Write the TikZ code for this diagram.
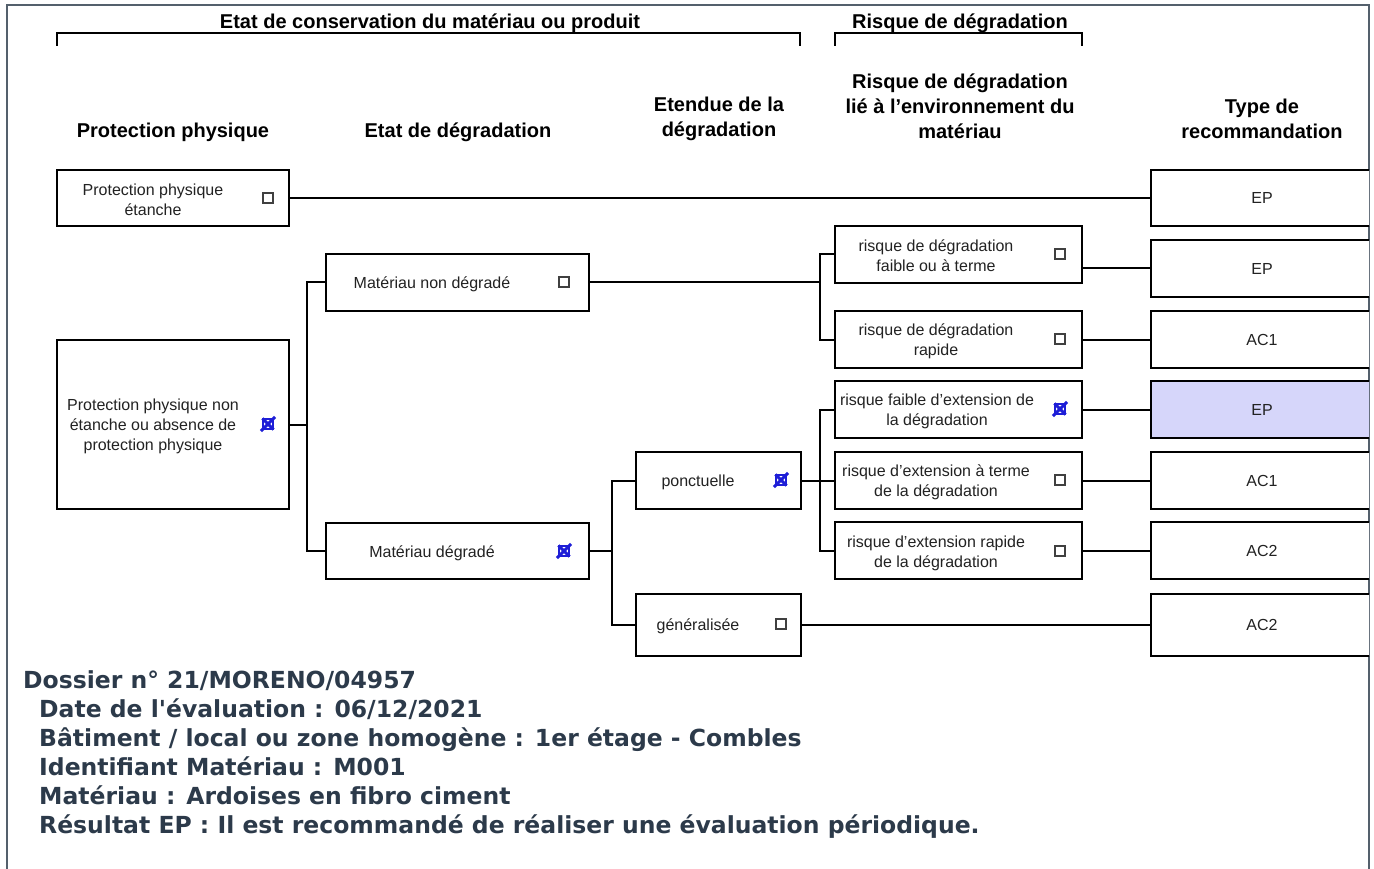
\documentclass[tikz,border=0pt]{standalone}
\usepackage{fontspec}
\setmainfont{Liberation Sans}
\newfontfamily\notefont{DejaVu Sans}
\definecolor{ink}{RGB}{34,34,34}
\definecolor{frame}{RGB}{84,96,108}
\definecolor{noteink}{RGB}{44,58,74}
\definecolor{pick}{RGB}{214,214,250}
\definecolor{tick}{RGB}{30,30,215}
\tikzset{
  box/.style={draw,line width=2pt,fill=white,inner sep=0pt},
  wire/.style={line width=2pt},
  txt/.style={align=center,text=ink,font=\fontsize{16}{20}\selectfont},
  lbl/.style={txt,yshift=-2pt},
  head/.style={align=center,yshift=-2pt,font=\bfseries\fontsize{20}{25}\selectfont},
  cb/.style={draw=black!75,line width=1.2pt,minimum size=10pt,inner sep=0pt},
  cbx/.style={cb,draw=tick},
  note/.style={anchor=base west,inner sep=0pt,text=noteink,font=\notefont\bfseries\fontsize{23.5}{29}\selectfont}
}
\begin{document}
\begin{tikzpicture}[x=1pt,y=-1pt]
  \useasboundingbox (0,0) rectangle (1374,869);
  % frame
  \draw[frame,line width=1.2pt] (7,869) -- (7,5) -- (1369,5) -- (1369,869);

  % top brackets
  \node[head] (hcons) at (430,21) {Etat de conservation du matériau ou produit};
  \draw[line width=2.5pt] (57,46) -- (57,33) -- (800,33) -- (800,46);
  \node[head] (hrisk) at (960,21) {Risque de dégradation};
  \draw[line width=2.5pt] (835,46) -- (835,33) -- (1082,33) -- (1082,46);

  % column heads
  \node[head] (hprot) at (173,130) {Protection physique};
  \node[head] (hetat) at (458,130) {Etat de dégradation};
  \node[head] (hext) at (719,117) {Etendue de la\\dégradation};
  \node[head] (henv) at (960,104) {Risque de dégradation\\lié à l'environnement du\\matériau};
  \node[head] (htype) at (1262,117) {Type de\\recommandation};

  % protection physique
  \node[box,minimum width=232pt,minimum height=56pt] (pp1) at (173,198) {};
  \node[lbl] (pp1t) at (153,198) {Protection physique\\étanche};
  \node[cb] (pp1c) at (268,198) {};
  \node[box,minimum width=232pt,minimum height=169pt] (pp2) at (173,424.5) {};
  \node[lbl] (pp2t) at (153,424) {Protection physique non\\étanche ou absence de\\protection physique};
  \node[cbx] (pp2c) at (268,424) {};

  % etat de degradation
  \node[box,minimum width=263pt,minimum height=57pt] (nd) at (457.5,282.5) {};
  \node[lbl] (ndt) at (432,282) {Matériau non dégradé};
  \node[cb] (ndc) at (564,282) {};
  \node[box,minimum width=263pt,minimum height=56pt] (d) at (457.5,551) {};
  \node[lbl] (dt) at (432,551) {Matériau dégradé};
  \node[cbx] (dc) at (564,551) {};

  % etendue
  \node[box,minimum width=165pt,minimum height=57pt] (ponct) at (718.5,480.5) {};
  \node[lbl] (ponctt) at (698,480) {ponctuelle};
  \node[cbx] (ponctc) at (781,480) {};
  \node[box,minimum width=165pt,minimum height=62pt] (gen) at (718.5,625) {};
  \node[lbl] (gent) at (698,624) {généralisée};
  \node[cb] (genc) at (781,624) {};

  % risque
  \node[box,minimum width=247pt,minimum height=57pt] (r1) at (958.5,254.5) {};
  \node[lbl] (r1t) at (936,254) {risque de dégradation\\faible ou à terme};
  \node[cb] (r1c) at (1060,254) {};
  \node[box,minimum width=247pt,minimum height=57pt] (r2) at (958.5,339.5) {};
  \node[lbl] (r2t) at (936,339) {risque de dégradation\\rapide};
  \node[cb] (r2c) at (1060,339) {};
  \node[box,minimum width=247pt,minimum height=57pt] (r3) at (958.5,409.5) {};
  \node[lbl] (r3t) at (937,409) {risque faible d'extension de\\la dégradation};
  \node[cbx] (r3c) at (1060,409) {};
  \node[box,minimum width=247pt,minimum height=57pt] (r4) at (958.5,480.5) {};
  \node[lbl] (r4t) at (936,480) {risque d'extension à terme\\de la dégradation};
  \node[cb] (r4c) at (1060,480) {};
  \node[box,minimum width=247pt,minimum height=57pt] (r5) at (958.5,550.5) {};
  \node[lbl] (r5t) at (936,551) {risque d'extension rapide\\de la dégradation};
  \node[cb] (r5c) at (1060,551) {};

  % crosses
  \foreach \c in {pp2c,dc,ponctc,r3c}
    \draw[tick,line width=3pt,shorten <=-2pt,shorten >=-2pt]
      (\c.north west) -- (\c.south east) (\c.south west) -- (\c.north east);

  % type de recommandation (cut at the frame)
  \begin{scope}
    \clip (0,0) rectangle (1369,869);
    \node[box,txt,minimum width=222pt,minimum height=56pt] (t1) at (1262,198) {EP};
    \node[box,txt,minimum width=222pt,minimum height=57pt] (t2) at (1262,268.5) {EP};
    \node[box,txt,minimum width=222pt,minimum height=57pt] (t3) at (1262,339.5) {AC1};
    \node[box,txt,fill=pick,minimum width=222pt,minimum height=57pt] (t4) at (1262,409.5) {EP};
    \node[box,txt,minimum width=222pt,minimum height=57pt] (t5) at (1262,480.5) {AC1};
    \node[box,txt,minimum width=222pt,minimum height=57pt] (t6) at (1262,550.5) {AC2};
    \node[box,txt,minimum width=222pt,minimum height=62pt] (t7) at (1262,625) {AC2};
  \end{scope}

  % connectors
  \coordinate (j1) at (307,424.5);
  \coordinate (j2) at (820,282.5);
  \coordinate (j3) at (612,551);
  \coordinate (j4) at (820,480.5);
  \draw[wire] (pp1.east) -- (t1.west);
  \draw[wire] (pp2.east) -- (j1);
  \draw[wire] (nd.west) -| (j1) |- (d.west);
  \draw[wire] (nd.east) -- (j2);
  \draw[wire] (r1.west) -| (j2) |- (r2.west);
  \draw[wire] (d.east) -- (j3);
  \draw[wire] (ponct.west) -| (j3) |- (gen.west);
  \draw[wire] (ponct.east) -- (r4.west);
  \draw[wire] (r3.west) -| (j4) |- (r5.west);
  \draw[wire] (gen.east) -- (t7.west);
  \draw[wire] (t2.west -| r1.east) -- (t2.west);
  \draw[wire] (t3.west -| r2.east) -- (t3.west);
  \draw[wire] (t4.west -| r3.east) -- (t4.west);
  \draw[wire] (t5.west -| r4.east) -- (t5.west);
  \draw[wire] (t6.west -| r5.east) -- (t6.west);

  % notes
  \node[note] (n1) at (23,688) {Dossier n° 21/MORENO/04957};
  \node[note] (n2) at (39,717) {Date de l'évaluation : 06/12/2021};
  \node[note] (n3) at (39,746) {Bâtiment / local ou zone homogène : 1er étage - Combles};
  \node[note] (n4) at (39,775) {Identifiant Matériau : M001};
  \node[note] (n5) at (39,804) {Matériau : Ardoises en fibro ciment};
  \node[note] (n6) at (39,833) {Résultat EP : Il est recommandé de réaliser une évaluation périodique.};
\end{tikzpicture}
\end{document}
